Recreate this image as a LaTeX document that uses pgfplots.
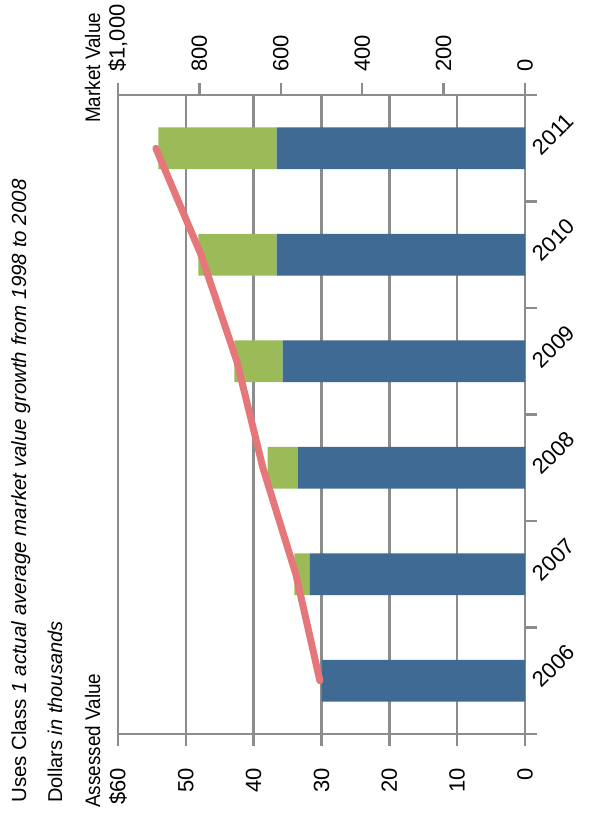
\documentclass[border=0pt]{standalone}
\usepackage{pgfplots}
\pgfplotsset{compat=1.18}
\usepackage{fontspec}
\setmainfont{Liberation Sans}
\newfontfamily\narrowfont[FakeStretch=0.9]{Liberation Sans}
\definecolor{barblue}{HTML}{3E6A94}
\definecolor{bargreen}{HTML}{9BBB59}
\definecolor{linered}{HTML}{E5777A}
\definecolor{axgray}{HTML}{8C8C8C}
\begin{document}
\begin{tikzpicture}[x=1pt,y=1pt]
\useasboundingbox (0,0) rectangle (609,818);
\begin{axis}[
  at={(118pt,84pt)}, anchor=south west,
  width=407pt, height=639pt, scale only axis,
  x dir=reverse,
  xmin=0, xmax=60, ymin=-0.5, ymax=5.5,
  xbar stacked, bar width=41.6pt,
  axis line style={axgray, line width=2.5pt},
  tick style={axgray, line width=2.5pt},
  tick align=outside,
  major tick length=12pt,
  /pgf/number format/assume math mode=true,
  xtick={0,10,...,60},
  xticklabels={0,10,20,30,40,50,\$60},
  xtick pos=bottom,
  xticklabel style={rotate=90, anchor=east, inner sep=0pt, font=\fontsize{22}{26}\selectfont},
  xticklabel shift=22pt,
  xmajorgrids,
  major grid style={axgray, line width=2.5pt},
  ytick={-0.5,0.5,...,5.5},
  yticklabels={},
  ytick pos=right,
  yticklabel pos=right,
  extra y ticks={0,1,2,3,4,5},
  extra y tick labels={2006,2007,2008,2009,2010,2011},
  extra y tick style={major tick length=0pt, yticklabel style={rotate=45, anchor=west, inner sep=0pt, xshift=6pt, yshift=-10pt, font=\fontsize{22}{26}\selectfont}},
]
\addplot[fill=barblue, draw=none] coordinates {(29.97,0) (31.70,1) (33.51,2) (35.72,3) (36.60,4) (36.60,5)};
\addplot[fill=bargreen, draw=none] coordinates {(0,0) (2.31,1) (4.42,2) (7.14,3) (11.56,4) (17.45,5)};
\end{axis}
\begin{axis}[
  at={(118pt,84pt)}, anchor=south west,
  width=407pt, height=639pt, scale only axis,
  x dir=reverse, xmin=0, xmax=1000, ymin=-0.5, ymax=5.5,
  axis x line*=top, axis y line=none,
  axis line style={axgray, line width=2.5pt},
  tick style={axgray, line width=2.5pt},
  tick align=outside, major tick length=12pt,
  /pgf/number format/assume math mode=true,
  xtick={0,200,...,1000},
  xticklabels={0,200,400,600,800,\$1{,}000},
  xticklabel style={rotate=90, anchor=west, inner sep=0pt, font=\fontsize{22}{26}\selectfont},
  xticklabel shift=11pt,
  ytick=\empty,
]
\addplot[linered, line width=7pt, line cap=round, line join=round] coordinates {(504,0) (563,1) (644,2) (708,3) (796,4) (907,5)};
\end{axis}
\node[rotate=90, anchor=base west, inner sep=0pt, font=\fontsize{20.5}{24}\selectfont] at (26,15) {Uses Class \textit{1 actual average market value growth from 1998 to 2008}};
\node[rotate=90, anchor=base west, inner sep=0pt, font=\fontsize{20}{24}\selectfont] at (62,15) {Dollars \textit{in thousands}};
\node[rotate=90, anchor=base west, inner sep=0pt, font=\narrowfont\fontsize{21}{25}\selectfont] at (100,10) {Assessed Value};
\node[rotate=90, anchor=base west, inner sep=0pt, font=\narrowfont\fontsize{21}{25}\selectfont] at (100,695) {Market Value};
\end{tikzpicture}
\end{document}
